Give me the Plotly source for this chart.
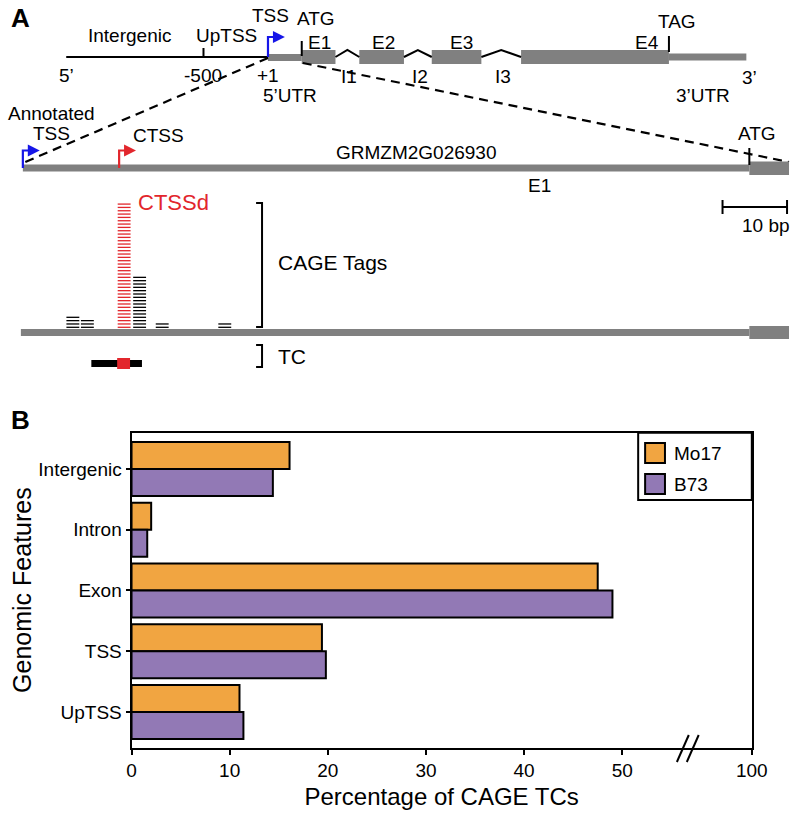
import plotly.graph_objects as go

W, H = 793, 816          # reference picture size (design coordinates)
FIG_W = 808              # rendered width (the viewer compresses width by ~0.981)

# ---------------- Panel B data ----------------
features = ["Intergenic", "Intron", "Exon", "TSS", "UpTSS"]
mo17 = [16.1, 2.0, 47.5, 19.4, 11.0]
b73 = [14.4, 1.6, 49.0, 19.8, 11.4]
series_names = ["Mo17", "B73"]
x_tick_vals = [0, 10, 20, 30, 40, 50]
x_tick_text = ["0", "10", "20", "30", "40", "50"]
break_label = "100"

# ---------------- Panel A data (schematic) ----------------
exon_names = ["E1", "E2", "E3", "E4"]
intron_names = ["I1", "I2", "I3"]
tag_bp = [7.75, 10.0, 15.7, 18.1, 21.6, 31.3]   # bp downstream of annotated TSS
tag_counts = [4, 3, 38, 16, 2, 2]
tag_ctss = [False, False, True, False, False, False]

ORANGE = "#F1A541"
PURPLE = "#9279B5"
GRAY = "#808080"
BLUE = "#1616E8"
RED = "#E2262C"
FONT = "Liberation Sans, Arial, sans-serif"

fig = go.Figure()

fig.add_trace(go.Bar(y=features, x=mo17, orientation="h", name=series_names[0],
                     marker=dict(color=ORANGE, line=dict(color="black", width=2)),
                     showlegend=False, xaxis="x", yaxis="y"))
fig.add_trace(go.Bar(y=features, x=b73, orientation="h", name=series_names[1],
                     marker=dict(color=PURPLE, line=dict(color="black", width=2)),
                     showlegend=False, xaxis="x", yaxis="y"))

BX0, BX1 = 127.5, 752.5
BY0, BY1 = 432.7, 747.5
XMAX = 63.2

AH = 400.0
shapes = []
annots = []

def line(x0, y0, x1, y1, color="black", width=2, dash=None):
    d = dict(type="line", xref="x2", yref="y2", x0=x0, y0=y0, x1=x1, y1=y1,
             line=dict(color=color, width=width))
    if dash:
        d["line"]["dash"] = dash
    shapes.append(d)

def rect(x0, y0, x1, y1, color):
    shapes.append(dict(type="rect", xref="x2", yref="y2", x0=x0, y0=y0, x1=x1, y1=y1,
                       fillcolor=color, line=dict(width=0)))

def path(p, color="black", width=2, fill=None):
    d = dict(type="path", xref="x2", yref="y2", path=p, line=dict(color=color, width=width))
    if fill:
        d["fillcolor"] = fill
        d["line"]["width"] = 0
    shapes.append(d)

def text(x, y, s, size=19, color="black", xanchor="center", bold=False):
    annots.append(dict(xref="x2", yref="y2", x=x, y=y, text=("<b>%s</b>" % s) if bold else s,
                       showarrow=False, xanchor=xanchor, yanchor="middle",
                       font=dict(family=FONT, size=size, color=color)))

def tss_arrow(x, ybase, ytop, color):
    path("M%f,%f V%f H%f" % (x, ybase, ytop, x + 6), color=color, width=2.2)
    path("M%f,%f L%f,%f L%f,%f Z" % (x + 5, ytop - 6, x + 17, ytop, x + 5, ytop + 6), fill=color)

line(61.7, 57, 265, 57)
line(200, 48, 200, 57)
rect(265, 54, 299, 61, GRAY)
exons = [(299, 333), (357, 402), (430, 480), (520, 669)]
for (a, b) in exons:
    rect(a, 50, b, 64, GRAY)
for i in range(3):
    a = exons[i][1]; b = exons[i + 1][0]
    path("M%f,57 L%f,50 L%f,57" % (a, (a + b) / 2, b), width=2)
rect(669, 53.5, 747, 60.5, GRAY)
line(299, 41, 299, 56)
line(669, 36, 669, 52)
tss_arrow(265, 57, 37, BLUE)

line(265, 58, 18, 163, dash="9px,6px", width=2.2)
line(300, 63, 790, 162, dash="9px,6px", width=2.2)

rect(18, 164.5, 750, 171.5, GRAY)
rect(750, 161.5, 790, 175, GRAY)
line(750, 148, 750, 165)
tss_arrow(18, 168, 150.5, BLUE)
tss_arrow(115, 168, 150.5, RED)

line(723, 207, 788, 207)
line(723, 200, 723, 214)
line(788, 200, 788, 214)

rect(16, 329, 750, 336, GRAY)
rect(750, 326, 790, 339, GRAY)

PX_TSS = 18.0
PX_PER_BP = 6.5
TAG_BASE = 327.3
TAG_STEP = 3.33
for bp, n, is_c in zip(tag_bp, tag_counts, tag_ctss):
    cx = PX_TSS + bp * PX_PER_BP
    xs, ys = [], []
    for k in range(n):
        y = TAG_BASE - k * TAG_STEP
        xs += [cx - 6.5, cx + 6.5, None]
        ys += [y, y, None]
    fig.add_trace(go.Scatter(x=xs, y=ys, mode="lines", xaxis="x2", yaxis="y2",
                             line=dict(color=RED if is_c else "black", width=1.3),
                             showlegend=False, hoverinfo="skip"))

path("M253,203 H259 V327 H253", width=2)
path("M253,345 H259 V367 H253", width=2)

rect(87, 360, 138, 367, "black")
rect(113, 358, 126, 369, RED)

text(16, 18, "A", size=26, bold=True)
text(125, 35, "Intergenic")
text(223, 35, "UpTSS")
text(268, 15, "TSS")
text(313, 18, "ATG")
text(317, 42, "E1"); text(381, 42, "E2"); text(460, 42, "E3"); text(647, 42, "E4")
text(677, 21, "TAG")
text(62, 75, "5’"); text(200, 75, "-500"); text(265, 75, "+1")
text(287, 95, "5’UTR")
text(347, 76, "I1"); text(418, 76, "I2"); text(502, 76, "I3")
text(750, 77, "3’"); text(703, 95, "3’UTR")
text(47, 113, "Annotated"); text(47, 133, "TSS")
text(155, 135, "CTSS")
text(415, 152, "GRMZM2G026930")
text(758, 133, "ATG")
text(539, 185, "E1")
text(767, 225, "10 bp")
text(132, 202, "CTSSd", size=22, color=RED, xanchor="left")
text(273, 262, "CAGE Tags", size=21, xanchor="left")
text(273, 356, "TC", size=21, xanchor="left")

def px(xp):
    return xp / W
def py(yp):
    return 1 - yp / H

annots.append(dict(xref="paper", yref="paper", x=px(16), y=py(420), text="<b>B</b>",
                   xanchor="center", yanchor="middle",
                   showarrow=False, font=dict(family=FONT, size=26, color="black")))
for dx in (0, 10):
    shapes.append(dict(type="line", xref="paper", yref="paper",
                       x0=px(677 + dx), y0=py(762), x1=px(689 + dx), y1=py(735),
                       line=dict(color="black", width=2)))
LX0, LX1, LY0, LY1 = 638, 752.5, 432.7, 500
shapes.append(dict(type="rect", xref="paper", yref="paper", x0=px(LX0), x1=px(LX1),
                   y0=py(LY1), y1=py(LY0), line=dict(color="black", width=2),
                   fillcolor="white"))
for i, (nm, col) in enumerate(zip(series_names, [ORANGE, PURPLE])):
    yc = 453 + i * 31
    shapes.append(dict(type="rect", xref="paper", yref="paper", x0=px(645), x1=px(665),
                       y0=py(yc + 10), y1=py(yc - 10), line=dict(color="black", width=2),
                       fillcolor=col))
    annots.append(dict(xref="paper", yref="paper", x=px(672), y=py(yc), text=nm,
                       xanchor="left", yanchor="middle", showarrow=False,
                       font=dict(family=FONT, size=19, color="black")))

fig.update_layout(
    width=FIG_W, height=H, margin=dict(l=0, r=0, t=0, b=0),
    paper_bgcolor="white", plot_bgcolor="white",
    barmode="group", bargap=0.11, bargroupgap=0,
    font=dict(family=FONT, color="black"),
    shapes=shapes, annotations=annots,
    xaxis=dict(domain=[px(BX0), px(BX1)], range=[0, XMAX],
               tickvals=x_tick_vals + [XMAX], ticktext=x_tick_text + [break_label],
               showline=True, mirror=True, linecolor="black", linewidth=2,
               ticks="outside", ticklen=5, tickwidth=2, tickcolor="black",
               tickfont=dict(size=19), showgrid=False, zeroline=False,
               title=dict(text="Percentage of CAGE TCs", font=dict(size=24), standoff=8),
               anchor="y"),
    yaxis=dict(domain=[py(BY1), py(BY0)], categoryorder="array", categoryarray=features,
               range=[4.585, -0.598], showline=True, mirror=True, linecolor="black",
               linewidth=2, ticks="outside", ticklen=4, tickwidth=2, tickcolor="black",
               tickfont=dict(size=19), showgrid=False, zeroline=False,
               title=dict(text="Genomic Features", font=dict(size=25), standoff=0),
               anchor="x"),
    xaxis2=dict(domain=[0, 1], range=[0, W], visible=False, anchor="y2", fixedrange=True),
    yaxis2=dict(domain=[1 - AH / H, 1], range=[AH, 0], visible=False, anchor="x2",
                fixedrange=True),
)

fig.write_html("out.html", config={"displayModeBar": False},
               post_script="document.body.style.margin='0px';document.body.style.overflow='hidden';")
